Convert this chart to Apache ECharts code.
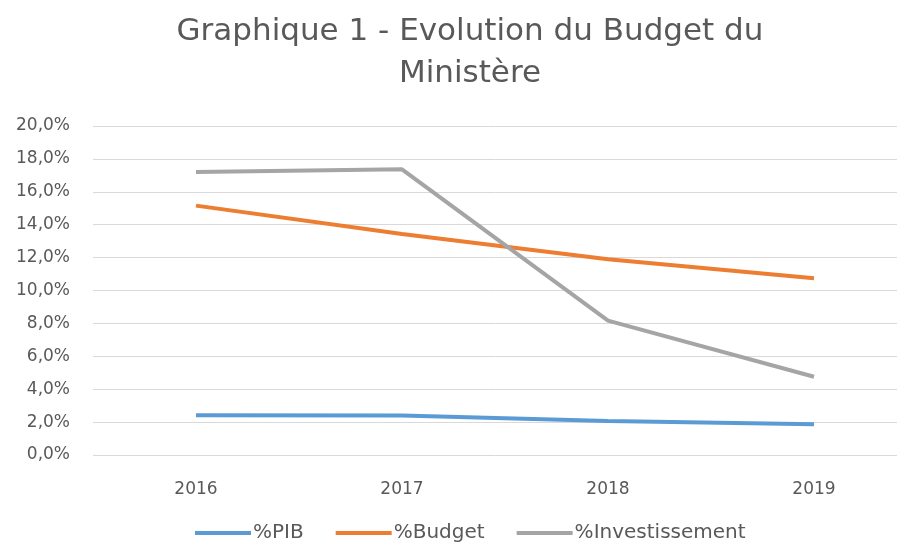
<!DOCTYPE html>
<html>
<head>
<meta charset="utf-8">
<script src="https://cdn.jsdelivr.net/npm/echarts@6/dist/echarts.min.js"></script>
<style>
  html, body { margin: 0; padding: 0; background: #fff; }
  #chart { width: 897px; height: 550px; }
</style>
</head>
<body>
<div id="chart"></div>
<script>
const years = ['2016', '2017', '2018', '2019']
const pib = [2.41, 2.40, 2.07, 1.87]
const budget = [15.16, 13.43, 11.9, 10.74]
const investissement = [17.2, 17.37, 8.17, 4.76]

const chart = echarts.init(document.getElementById('chart'), null, { renderer: 'canvas' })

const font = 'DejaVu Sans'
const fmt = (v) => v.toFixed(1).replace('.', ',') + '%'
const lineSeries = (name, data, color) => ({
  name,
  type: 'line',
  data,
  symbol: 'none',
  lineStyle: { width: 4, color },
  itemStyle: { color },
})

const option = {
  backgroundColor: '#fff',
  textStyle: { fontFamily: font },
  title: {
    text: 'Graphique 1 - Evolution du Budget du\nMinistère',
    left: 465,
    textAlign: 'center',
    top: 6,
    textStyle: { color: '#595959', fontSize: 31, fontWeight: 'normal', lineHeight: 42, fontFamily: font },
  },
  legend: {
    data: ['%PIB', '%Budget', '%Investissement'],
    left: 190,
    bottom: 2,
    itemWidth: 56,
    itemHeight: 4,
    itemGap: 32,
    icon: 'rect',
    textStyle: { color: '#595959', fontSize: 20, padding: [0, 0, 0, -3] },
  },
  // plot area runs past the right edge of the picture, as in the original
  grid: { left: 93, top: 126, width: 824, height: 329, containLabel: false, outerBoundsMode: 'none' },
  xAxis: {
    type: 'category',
    data: years,
    boundaryGap: true,
    axisLine: { show: false },
    axisTick: { show: false },
    axisLabel: { color: '#595959', fontSize: 17, margin: 26 },
  },
  yAxis: {
    type: 'value',
    min: 0,
    max: 20,
    interval: 2,
    axisLine: { show: false },
    axisTick: { show: false },
    splitLine: { lineStyle: { color: '#d9d9d9', width: 1 } },
    axisLabel: { color: '#595959', fontSize: 17, margin: 23, formatter: fmt },
  },
  series: [
    lineSeries('%PIB', pib, '#5b9bd5'),
    lineSeries('%Budget', budget, '#ed7d31'),
    lineSeries('%Investissement', investissement, '#a5a5a5'),
  ],
}

chart.setOption(option)
</script>
</body>
</html>
